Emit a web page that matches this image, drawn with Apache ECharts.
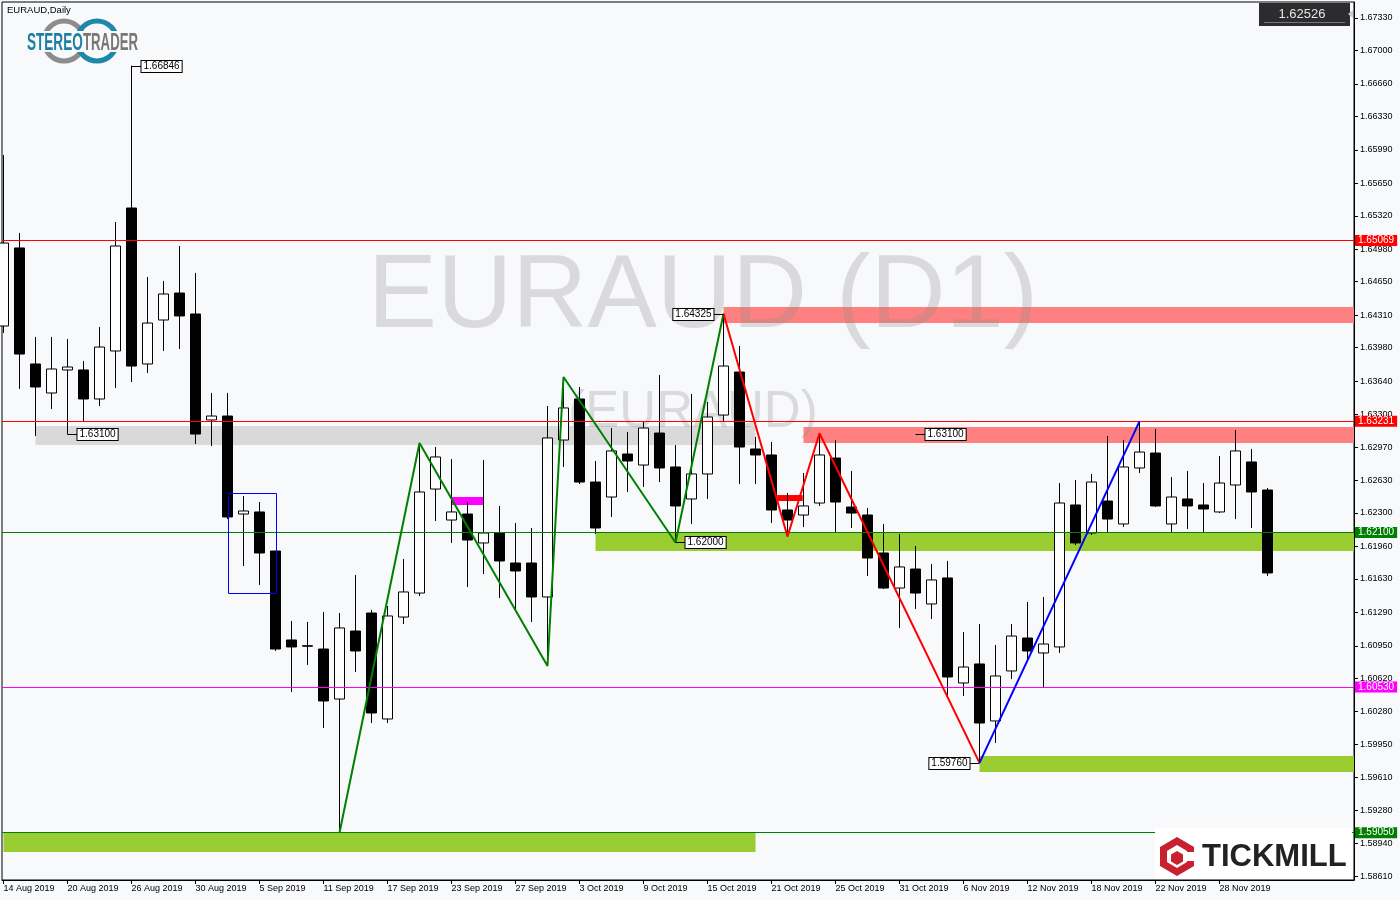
<!DOCTYPE html>
<html><head><meta charset="utf-8">
<script src="https://cdn.jsdelivr.net/npm/echarts@6/dist/echarts.min.js"></script>
<style>html,body{margin:0;padding:0;background:#f8f9fb;}#c{width:1400px;height:900px;}</style>
</head><body><div id="c"></div>
<script>
// ---- data ----
const dates = ['14 Aug 2019','15 Aug 2019','16 Aug 2019','19 Aug 2019','20 Aug 2019','21 Aug 2019','22 Aug 2019','23 Aug 2019','26 Aug 2019','27 Aug 2019','28 Aug 2019','29 Aug 2019','30 Aug 2019',
'2 Sep 2019','3 Sep 2019','4 Sep 2019','5 Sep 2019','6 Sep 2019','9 Sep 2019','10 Sep 2019','11 Sep 2019','12 Sep 2019','13 Sep 2019','16 Sep 2019','17 Sep 2019','18 Sep 2019','19 Sep 2019','20 Sep 2019','23 Sep 2019','24 Sep 2019','25 Sep 2019','26 Sep 2019','27 Sep 2019','30 Sep 2019',
'1 Oct 2019','2 Oct 2019','3 Oct 2019','4 Oct 2019','7 Oct 2019','8 Oct 2019','9 Oct 2019','10 Oct 2019','11 Oct 2019','14 Oct 2019','15 Oct 2019','16 Oct 2019','17 Oct 2019','18 Oct 2019','21 Oct 2019','22 Oct 2019','23 Oct 2019','24 Oct 2019','25 Oct 2019','28 Oct 2019','29 Oct 2019','30 Oct 2019','31 Oct 2019',
'1 Nov 2019','4 Nov 2019','5 Nov 2019','6 Nov 2019','7 Nov 2019','8 Nov 2019','11 Nov 2019','12 Nov 2019','13 Nov 2019','14 Nov 2019','15 Nov 2019','18 Nov 2019','19 Nov 2019','20 Nov 2019','21 Nov 2019','22 Nov 2019','25 Nov 2019','26 Nov 2019','27 Nov 2019','28 Nov 2019','29 Nov 2019',
'2 Dec 2019','3 Dec 2019'];
const opens  = [1.64200,1.64993,1.63814,1.63519,1.63753,1.63753,1.63458,1.63946,1.65399,1.63814,1.64261,1.64535,1.64322,1.63245,1.63285,1.62289,1.62310,1.61913,1.61009,1.60950,
1.60917,1.60409,1.61100,1.61283,1.60206,1.61242,1.61486,1.62543,1.62228,1.62289,1.61995,1.62096,1.61791,1.61791,1.61446,1.63041,1.63458,1.62614,1.62462,1.62899,
1.62787,1.63112,1.62767,1.62442,1.62696,1.63295,1.63732,1.62950,1.62889,1.62330,1.62279,1.62401,1.62858,1.62360,1.62279,1.61893,1.61537,1.61730,1.61375,1.61639,
1.60572,1.60765,1.60186,1.60694,1.61029,1.60877,1.60938,1.62381,1.62096,1.62421,1.62188,1.62757,1.62909,1.62188,1.62442,1.62381,1.62310,1.62584,1.62818,1.62533];
const highs  = [1.65938,1.65145,1.64088,1.64088,1.64068,1.63844,1.64190,1.65257,1.66846,1.64698,1.64657,1.65013,1.64739,1.63519,1.63519,1.62472,1.62411,1.61913,1.61202,1.61192,
1.61293,1.61283,1.61669,1.61314,1.61354,1.61832,1.63011,1.62970,1.62848,1.62411,1.62838,1.62371,1.62198,1.62147,1.63387,1.63682,1.63580,1.62828,1.63163,1.63123,
1.63224,1.63702,1.62990,1.63509,1.63428,1.64325,1.63997,1.63072,1.63021,1.62503,1.62706,1.63110,1.63041,1.62726,1.62350,1.62188,1.62086,1.61964,1.61781,1.61812,
1.61090,1.61171,1.60958,1.61171,1.61395,1.61446,1.62604,1.62635,1.62696,1.63082,1.63041,1.63231,1.63153,1.62665,1.62726,1.62604,1.62879,1.63143,1.62950,1.62554];
const lows   = [1.64129,1.63560,1.63082,1.63356,1.63100,1.63234,1.63387,1.63570,1.63631,1.63722,1.63946,1.63966,1.63001,1.62980,1.62238,1.61761,1.61568,1.60897,1.60480,1.60755,
1.60114,1.59050,1.60684,1.60165,1.60165,1.61171,1.61456,1.62218,1.61995,1.61547,1.61679,1.61436,1.61303,1.61192,1.60744,1.62767,1.62594,1.62086,1.62259,1.62513,
1.62564,1.62614,1.62000,1.62188,1.62442,1.63224,1.62594,1.62594,1.62198,1.62060,1.62157,1.62371,1.62106,1.62147,1.61659,1.61527,1.61131,1.61324,1.61222,1.60429,
1.60440,1.59760,1.59962,1.60612,1.60805,1.60530,1.60877,1.61974,1.62076,1.62096,1.62157,1.62706,1.62360,1.62106,1.62137,1.62106,1.62299,1.62238,1.62147,1.61659];
const closes = [1.65043,1.63915,1.63580,1.63763,1.63783,1.63458,1.63986,1.65013,1.63793,1.64230,1.64525,1.64302,1.63102,1.63285,1.62259,1.62320,1.61893,1.60917,1.60938,1.60946,
1.60389,1.61131,1.60897,1.60267,1.61253,1.61497,1.62513,1.62869,1.62310,1.62025,1.62096,1.61812,1.61710,1.61446,1.63062,1.63367,1.62614,1.62147,1.62930,1.62828,
1.63163,1.62757,1.62371,1.62696,1.63275,1.63793,1.62970,1.62889,1.62330,1.62228,1.62371,1.62889,1.62411,1.62299,1.61842,1.61537,1.61751,1.61486,1.61619,1.60633,
1.60734,1.60165,1.60643,1.61049,1.60897,1.60968,1.62401,1.61995,1.62614,1.62238,1.62767,1.62919,1.62371,1.62462,1.62371,1.62340,1.62604,1.62930,1.62513,1.61690];

const dateTickIdx = [0,4,8,12,16,20,24,28,32,36,40,44,48,52,56,60,64,68,72,76];
const priceTicks = [1.67330,1.67000,1.66660,1.66330,1.65990,1.65650,1.65320,1.64980,1.64650,1.64310,1.63980,1.63640,1.63300,1.62970,1.62630,1.62300,1.61960,1.61630,1.61290,1.60950,1.60620,1.60280,1.59950,1.59610,1.59280,1.58940,1.58610];

const levels = [1.65069, 1.63231, 1.62100, 1.60530, 1.59050];

const zigGreen = [[21,1.59050],[26,1.63011],[34,1.60744],[35,1.63682],[42,1.62000],[45,1.64325]];
const zigRed   = [[45,1.64325],[49,1.62060],[51,1.63110],[61,1.59760]];
const zigBlue  = [[61,1.59760],[71,1.63231]];

// zones: start index, end index (null = to right edge), upper price, lower price
const zoneStart = [2, 45, 50, 37, 61, 0, 28, 48.35];
const zoneEnd   = [47, null, null, null, null, 47, 30, 49.95];
const zoneHigh  = [1.63184, 1.64393, 1.63173, 1.62096, 1.59830, 1.59047, 1.62462, 1.62482];
const zoneLow   = [1.62990, 1.64230, 1.63010, 1.61913, 1.59667, 1.58854, 1.62381, 1.62421];
const boxRange  = [[14, 17, 1.62503, 1.61486]];

// price tags: index, price, side
const tagIdx   = [8, 4, 45, 42, 57, 61];
const tagPrice = [1.66846, 1.63100, 1.64325, 1.62000, 1.63100, 1.59760];
const tagSide  = [1, 1, -1, 1, 1, -1];

const lastPrice = '1.62526';

// ---- styles / layout ----
const X_MIN = -0.09375, X_MAX = 84.40625;
const Y_MIN = 1.585696, Y_MAX = 1.674927;
const levelColors = ['#ff0000','#ff0000','#008000','#ff00ff','#008000'];
const zoneColors = ['#d9d9d9','#ff8080','#ff8080','#9acd32','#9acd32','#9acd32','#ff00ff','#ff0000'];
const FONT = 'Liberation Sans';

const chart = echarts.init(document.getElementById('c'), null, {renderer:'canvas', width:1400, height:900});

const candleData = dates.map((d,i)=>[i, opens[i], closes[i], lows[i], highs[i]]);

function zoneRender(params, api){
  const i = params.dataIndex;
  const cs = params.coordSys;
  const p0 = api.coord([zoneStart[i], zoneHigh[i]]);
  const x1 = zoneEnd[i] == null ? cs.x + cs.width : api.coord([zoneEnd[i], zoneLow[i]])[0];
  const y1 = api.coord([zoneStart[i], zoneLow[i]])[1];
  return {type:'rect', shape:{x:p0[0], y:p0[1], width:x1-p0[0], height:y1-p0[1]}, style:{fill:zoneColors[i]}};
}
function boxRender(params, api){
  const b = boxRange[params.dataIndex];
  const a = api.coord([b[0], b[2]]), c = api.coord([b[1], b[3]]);
  return {type:'rect', shape:{x:Math.round(a[0])+0.5, y:Math.round(a[1])+0.5, width:Math.round(c[0]-a[0]), height:Math.round(c[1]-a[1])}, style:{fill:'none', stroke:'#0000ff', lineWidth:1}};
}
function tagRender(params, api){
  const i = params.dataIndex;
  const p = api.coord([tagIdx[i], tagPrice[i]]);
  const s = tagSide[i];
  const y = Math.round(p[1]) + 0.5;
  const x2 = p[0] + s*10;
  return {type:'group', children:[
    {type:'line', shape:{x1:p[0], y1:y, x2:x2, y2:y}, style:{stroke:'#000', lineWidth:1}},
    {type:'text', x:x2, y:y, style:{text:tagPrice[i].toFixed(5), fill:'#000', font:'10px '+FONT, align:s>0?'left':'right', verticalAlign:'middle',
      backgroundColor:'#ffffff', borderColor:'#000', borderWidth:1, padding:[1,2,0,2]}}
  ]};
}

const option = {
  backgroundColor:'#f8f9fb',
  animation:false,
  grid:{left:2, right:46, top:2, bottom:20, show:true, borderColor:'#000', borderWidth:1, backgroundColor:'#f8f9fb'},
  xAxis:{type:'value', min:X_MIN, max:X_MAX, splitLine:{show:false},
    axisLine:{show:true, onZero:false, lineStyle:{color:'#000', width:1}},
    axisTick:{show:true, customValues:dateTickIdx, length:4, lineStyle:{color:'#000'}},
    axisLabel:{customValues:dateTickIdx, formatter:v=>dates[v], align:'left', margin:4, fontSize:9, fontFamily:FONT, color:'#000'}},
  yAxis:{type:'value', position:'right', min:Y_MIN, max:Y_MAX, scale:true, splitLine:{show:false},
    axisLine:{show:true, onZero:false, lineStyle:{color:'#000', width:1}},
    axisTick:{show:true, customValues:priceTicks, length:4, lineStyle:{color:'#000'}},
    axisLabel:{customValues:priceTicks, formatter:v=>v.toFixed(5), margin:6, fontSize:9, fontFamily:FONT, color:'#000'}},
  graphic:[
    {type:'text', z:1.5, silent:true, style:{text:'EURAUD (D1)', x:703, y:350, align:'center', verticalAlign:'bottom', font:'104px '+FONT, fill:'rgba(140,140,140,0.28)'}},
    {type:'text', z:1.5, silent:true, style:{text:'(EURAUD)', x:693, y:438, align:'center', verticalAlign:'bottom', font:'51px '+FONT, fill:'rgba(140,140,140,0.28)'}},
    {type:'text', z:10, style:{text:'EURAUD,Daily', x:7, y:5, font:'9.5px '+FONT, fill:'#000'}},
    // StereoTrader logo
    {type:'circle', z:10, shape:{cx:64, cy:41, r:20}, style:{fill:'none', stroke:'#8c8c8c', lineWidth:5}},
    {type:'circle', z:10, shape:{cx:97, cy:41, r:20}, style:{fill:'none', stroke:'#1f87a8', lineWidth:5}},
    {type:'rect', z:10, shape:{x:26, y:31, width:114, height:21}, style:{fill:'#f8f9fb'}},
    {type:'text', z:11, x:27, y:31, scaleX:0.565, style:{text:'STEREO', font:'bold 24px '+FONT, fill:'#1f7fa3'}},
    {type:'text', z:11, x:83, y:31, scaleX:0.55, style:{text:'TRADER', font:'bold 24px '+FONT, fill:'#777777'}},
    // price box
    {type:'rect', z:10, shape:{x:1259, y:3, width:91, height:23}, style:{fill:'#2c2c2e'}},
    {type:'line', z:11, shape:{x1:1264, y1:22.5, x2:1345, y2:22.5}, style:{stroke:'#777', lineWidth:1}},
    {type:'text', z:11, style:{text:lastPrice, x:1302, y:14, align:'center', verticalAlign:'middle', font:'13px '+FONT, fill:'#e6e6e6'}},
    {type:'polygon', z:11, shape:{points:[[1348,14],[1353,10],[1353,18]]}, style:{fill:'#cccccc'}},
    // Tickmill logo
    {type:'rect', z:10, shape:{x:1155, y:828, width:197, height:51}, style:{fill:'#ffffff'}},
    {type:'polygon', z:11, shape:{points:[[1177,837],[1194,847],[1194,866],[1177,876],[1160,866],[1160,847]]}, style:{fill:'#c8202f'}},
    {type:'polygon', z:12, shape:{points:[[1177,845],[1187,851],[1187,862],[1177,868],[1167,862],[1167,851]]}, style:{fill:'#ffffff'}},
    {type:'polygon', z:13, shape:{points:[[1180,852],[1194,852],[1194,861],[1180,861]]}, style:{fill:'#ffffff'}},
    {type:'polygon', z:13, shape:{points:[[1177,851],[1183,854.5],[1183,861.5],[1177,865],[1171,861.5],[1171,854.5]]}, style:{fill:'#c8202f'}},
    {type:'text', z:11, style:{text:'TICKMILL', x:1202, y:857, verticalAlign:'middle', font:'bold 31px '+FONT, fill:'#222222'}}
  ],
  series:[
    {type:'custom', name:'zones', z:1, silent:true, clip:true, renderItem:zoneRender, data:zoneStart.map((v,i)=>i)},
    {type:'candlestick', name:'EURAUD', z:3, data:candleData, barWidth:11, silent:true,
      itemStyle:{color:'#ffffff', color0:'#000000', borderColor:'#000000', borderColor0:'#000000', borderColorDoji:'#000000', borderWidth:1},
      markLine:{silent:true, symbol:['none','none'], precision:5, z:4,
        data: levels.map((v,i)=>({yAxis:v, lineStyle:{color:levelColors[i], width:1, type:'solid'},
          label:{show:true, position:'end', distance:1, formatter:p=>Number(p.value).toFixed(5), color:'#fff', backgroundColor:levelColors[i], padding:[1,3,0,3], fontSize:10, fontFamily:FONT}}))}},
    {type:'line', z:5, data:zigGreen, symbol:'none', silent:true, lineStyle:{color:'#008000', width:2}},
    {type:'line', z:5, data:zigRed, symbol:'none', silent:true, lineStyle:{color:'#ff0000', width:2}},
    {type:'line', z:5, data:zigBlue, symbol:'none', silent:true, lineStyle:{color:'#0000ff', width:2}},
    {type:'custom', z:5, silent:true, renderItem:boxRender, data:boxRange.map((v,i)=>i)},
    {type:'custom', z:6, silent:true, clip:false, renderItem:tagRender, data:tagIdx.map((v,i)=>i)}
  ]
};
chart.setOption(option);
</script></body></html>
